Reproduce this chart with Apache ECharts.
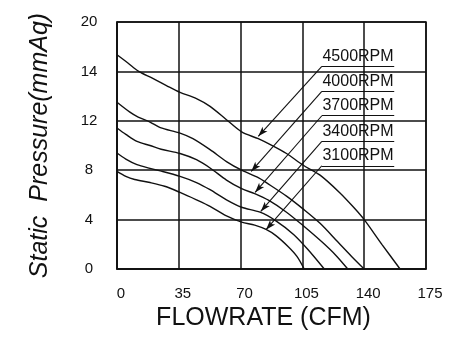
<!DOCTYPE html>
<html>
<head>
<meta charset="utf-8">
<script src="https://cdn.jsdelivr.net/npm/echarts@6/dist/echarts.min.js"></script>
<style>html,body{margin:0;padding:0;background:#fff}#c{width:469px;height:357px}</style>
</head>
<body>
<div id="c"></div>
<script>
// Data (x: CFM, y: position on the pressure scale, 0..20)
const xTicks = [0, 35, 70, 105, 140, 175];
const yTickLabels = ['0', '4', '8', '12', '14', '20'];
const seriesNames = ['4500RPM', '4000RPM', '3700RPM', '3400RPM', '3100RPM'];

const rpm4500 = [[0,17.35],[6,16.7],[12.3,16.0],[20,15.45],[28,14.85],[35.7,14.3],[45,13.8],[52.7,13.17],[62,12.09],[70.6,11.1],[80,10.55],[88.5,9.95],[96,9.35],[105.5,8.4],[115,7.6],[126,6.2],[134,5.0],[140,4.0],[150,2.0],[160.3,0]];
const rpm4000 = [[0,13.5],[7.3,12.7],[12,12.3],[18.7,11.9],[24.5,11.45],[35.7,11.0],[43,10.55],[52.7,9.66],[62,8.7],[70.6,8.0],[80,7.4],[85,6.95],[96,5.9],[105.5,4.85],[115,3.7],[125,2.2],[133,1.0],[140,0]];
const rpm3700 = [[0,11.42],[5,10.9],[11.3,10.33],[18.7,10.0],[25,9.7],[35.7,9.35],[45,8.85],[52.7,8.18],[62,7.2],[70.6,6.5],[78,6.1],[86,5.55],[96,4.6],[105.5,3.5],[116,2.2],[124,1.1],[130.7,0]];
const rpm3400 = [[0,9.39],[5,8.9],[11.3,8.45],[18.7,8.15],[24.5,7.95],[35.7,7.5],[45,7.0],[52.7,6.42],[62,5.6],[70.6,5.0],[81,4.6],[90,3.9],[100,2.8],[108,1.6],[117.4,0]];
const rpm3100 = [[0,7.9],[5,7.5],[10,7.25],[18.7,7.0],[27,6.7],[35.7,6.2],[45,5.6],[52.7,5.07],[62,4.3],[70.6,3.8],[78,3.55],[84.4,3.2],[90,2.7],[97,1.8],[102,1.0],[106,0]];

// Callout anchors (data coordinates)
const calloutRowY = [16.4, 14.38, 12.41, 10.33, 8.36];
const calloutX = [116, 157];
const arrowTips = [[80.0,10.74],[76.0,7.9],[78.2,6.2],[81.4,4.66],[84.4,3.18]];

const curves = [rpm4500, rpm4000, rpm3700, rpm3400, rpm3100];

const chart = echarts.init(document.getElementById('c'), null, {renderer: 'canvas'});
const FONT = '"Liberation Sans", Arial, sans-serif';

const series = curves.map((d, i) => ({
  name: seriesNames[i],
  type: 'line',
  data: d,
  smooth: 0.3,
  showSymbol: false,
  lineStyle: {color: '#111', width: 1.4},
  silent: true,
  animation: false,
  markLine: {
    silent: true,
    animation: false,
    symbol: ['none', 'none'],
    lineStyle: {color: '#111', width: 1.1, type: 'solid'},
    data: [
      [
        {coord: [calloutX[0], calloutRowY[i]], symbol: 'none'},
        {coord: arrowTips[i], symbol: 'arrow', symbolSize: [5, 10]}
      ],
      [
        {coord: [calloutX[0], calloutRowY[i]], symbol: 'none',
         label: {show: true, position: 'insideMiddleTop', formatter: seriesNames[i], distance: 2,
                 color: '#111', fontSize: 16, fontFamily: FONT}},
        {coord: [calloutX[1], calloutRowY[i]], symbol: 'none'}
      ]
    ],
    label: {show: false}
  }
}));

chart.setOption({
  backgroundColor: '#fff',
  animation: false,
  grid: {left: 117, right: 43, top: 22, bottom: 88, show: true, borderColor: '#111', borderWidth: 1.5},
  xAxis: {
    type: 'value', min: xTicks[0], max: xTicks[xTicks.length - 1], interval: 35,
    name: 'FLOWRATE (CFM)', nameLocation: 'middle', nameGap: 32,
    nameTextStyle: {fontSize: 25, color: '#111', fontFamily: FONT, padding: [0, 16, 0, 0]},
    axisLine: {show: true, lineStyle: {color: '#111', width: 1.5}},
    axisTick: {show: false},
    axisLabel: {fontSize: 15, color: '#111', fontFamily: FONT, margin: 17, padding: [0, 0, 0, 8]},
    splitLine: {show: true, lineStyle: {color: '#111', width: 1.5}}
  },
  yAxis: {
    type: 'value', min: 0, max: 20, interval: 4,
    name: 'Static  Pressure(mmAq)', nameLocation: 'middle', nameGap: 64,
    nameTextStyle: {fontSize: 25, color: '#111', fontFamily: FONT, fontStyle: 'italic'},
    axisLine: {show: true, lineStyle: {color: '#111', width: 1.5}},
    axisTick: {show: false},
    axisLabel: {fontSize: 15, color: '#111', fontFamily: FONT, margin: 28, align: 'center',
      formatter: v => yTickLabels[Math.round(v / 4)]},
    splitLine: {show: true, lineStyle: {color: '#111', width: 1.5}}
  },
  series: series
});
</script>
</body>
</html>
